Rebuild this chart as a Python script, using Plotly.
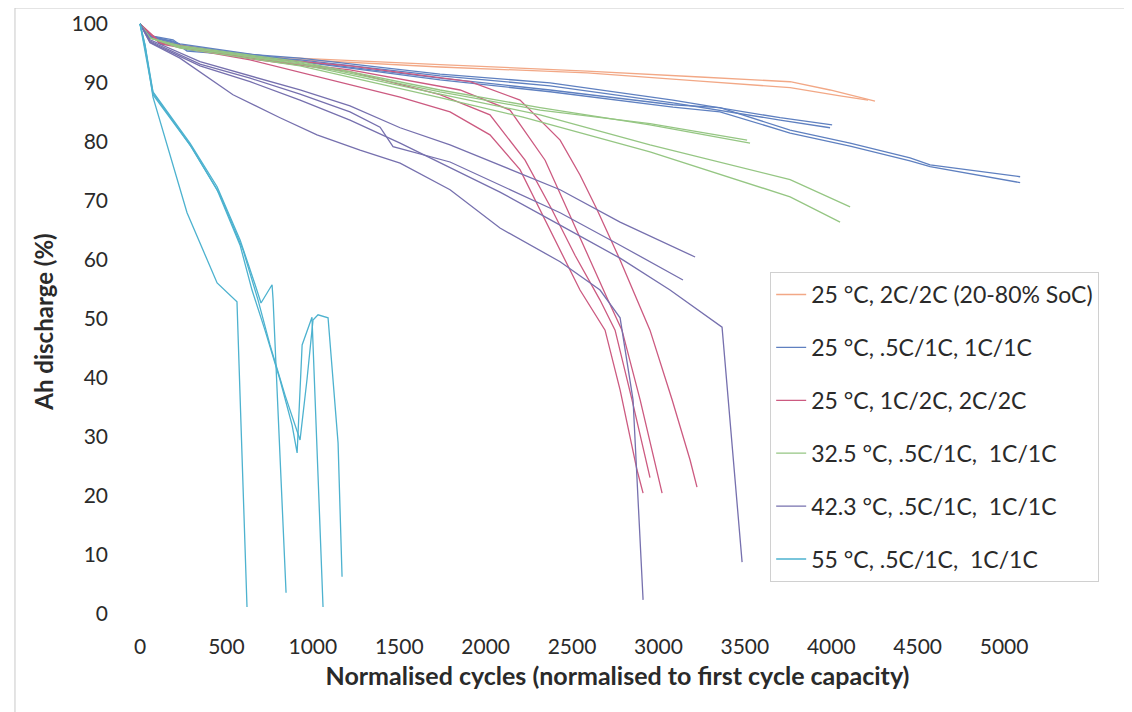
import plotly.graph_objects as go

# ---------------- data ----------------
series_names = [
    "25 °C, 2C/2C (20-80% SoC)",
    "25 °C, .5C/1C, 1C/1C",
    "25 °C, 1C/2C, 2C/2C",
    "32.5 °C, .5C/1C,  1C/1C",
    "42.3 °C, .5C/1C,  1C/1C",
    "55 °C, .5C/1C,  1C/1C",
]
series_colors = ["#F2A886", "#5F80C0", "#CC5A80", "#95C683", "#7670AE", "#4DB2CF"]

# 25 °C, 2C/2C (20-80% SoC)
orange_1_x = [0, 58, 231, 752, 1736, 2587, 3241, 3762, 3993, 4253]
orange_1_y = [100, 98.1, 96.4, 94.4, 93.1, 92.0, 91.0, 90.2, 88.8, 86.9]
orange_2_x = [0, 58, 231, 752, 1736, 2587, 3241, 3762, 4051, 4213]
orange_2_y = [100, 98.0, 96.3, 94.2, 92.7, 91.7, 90.3, 89.2, 87.8, 87.1]

# 25 °C, .5C/1C, 1C/1C
blue_1_x = [0, 58, 191, 272, 926, 1736, 2373, 3084, 3704, 4005]
blue_1_y = [100, 98.0, 97.3, 95.6, 94.2, 91.5, 90.0, 87.1, 84.1, 82.9]
blue_2_x = [0, 58, 191, 272, 926, 1736, 2373, 3084, 3704, 3993]
blue_2_y = [100, 97.8, 97.1, 95.4, 93.9, 91.2, 89.5, 86.6, 83.7, 82.4]
blue_3_x = [0, 58, 231, 926, 1736, 2373, 3084, 3356, 3762, 4109, 4456, 4572, 5093]
blue_3_y = [100, 98.0, 96.6, 93.7, 90.8, 88.8, 86.3, 85.8, 82.0, 79.8, 77.3, 76.1, 74.1]
blue_4_x = [0, 58, 231, 926, 1736, 2373, 3084, 3356, 3762, 4109, 4456, 4572, 5093]
blue_4_y = [100, 97.8, 96.4, 93.6, 90.5, 88.5, 85.9, 85.1, 81.5, 79.3, 76.8, 75.8, 73.1]

# 25 °C, 1C/2C, 2C/2C
pink_1_x = [0, 116, 637, 1042, 1505, 1794, 2025, 2199, 2315, 2431, 2546, 2691, 2778, 2876, 2911]
pink_1_y = [100, 96.6, 93.9, 91.0, 87.6, 85.1, 81.2, 75.3, 68.5, 61.7, 54.9, 48.1, 38.0, 24.4, 20.5]
pink_2_x = [0, 116, 637, 1215, 1852, 2141, 2344, 2471, 2604, 2708, 2789, 2894, 3021]
pink_2_y = [100, 96.8, 94.2, 92.2, 88.8, 85.4, 76.9, 68.5, 60.0, 53.2, 48.1, 36.3, 20.5]
pink_3_x = [0, 116, 637, 1215, 1910, 2199, 2431, 2546, 2645, 2778, 2951, 3079, 3183, 3223]
pink_3_y = [100, 96.9, 94.4, 92.9, 90.2, 87.1, 80.3, 74.4, 68.5, 60.0, 48.1, 36.3, 26.1, 21.5]
pink_4_x = [0, 116, 637, 1215, 1736, 2025, 2228, 2384, 2517, 2662, 2749, 2847, 2951]
pink_4_y = [100, 96.8, 94.1, 91.9, 88.0, 84.6, 76.9, 68.5, 60.8, 53.2, 48.1, 36.3, 23.1]

# 32.5 °C, .5C/1C, 1C/1C
green_1_x = [0, 58, 231, 926, 1736, 2315, 2951, 3530]
green_1_y = [100, 97.6, 96.3, 93.6, 88.8, 85.8, 82.9, 79.8]
green_2_x = [0, 58, 231, 926, 1736, 2315, 2951, 3513]
green_2_y = [100, 97.6, 96.1, 93.4, 88.5, 85.4, 83.1, 80.3]
green_3_x = [0, 58, 231, 926, 1736, 2315, 2951, 3762, 4109]
green_3_y = [100, 97.6, 96.1, 93.2, 88.1, 84.6, 79.5, 73.6, 69.0]
green_4_x = [0, 58, 231, 926, 1736, 2216, 2951, 3762, 4051]
green_4_y = [100, 97.6, 95.9, 92.9, 87.5, 84.2, 78.3, 70.7, 66.4]

# 42.3 °C, .5C/1C, 1C/1C
purple_1_x = [0, 58, 347, 637, 926, 1215, 1505, 1794, 2083, 2431, 2778, 3212]
purple_1_y = [100, 97.3, 93.6, 91.2, 88.8, 86.1, 82.4, 79.5, 76.1, 71.9, 66.4, 60.5]
purple_2_x = [0, 58, 347, 637, 926, 1215, 1389, 1464, 1794, 2083, 2431, 2778, 3142]
purple_2_y = [100, 97.1, 93.2, 90.8, 88.1, 85.1, 82.5, 79.2, 76.6, 72.7, 68.0, 62.5, 56.6]
purple_3_x = [0, 58, 347, 637, 926, 1215, 1505, 1794, 2083, 2431, 2778, 3067, 3368, 3484]
purple_3_y = [100, 96.9, 92.9, 90.2, 87.1, 83.7, 79.8, 75.6, 71.5, 65.9, 60.3, 54.9, 48.6, 8.8]
purple_4_x = [0, 58, 231, 538, 810, 1024, 1273, 1505, 1794, 2083, 2431, 2662, 2778, 2853, 2911]
purple_4_y = [100, 96.8, 94.2, 88.0, 84.1, 81.2, 78.6, 76.4, 71.9, 65.4, 59.7, 54.9, 50.2, 36.3, 2.4]

# 55 °C, .5C/1C, 1C/1C
cyan_1_x = [0, 29, 75, 272, 446, 561, 619]
cyan_1_y = [100, 96.4, 87.6, 68.0, 56.1, 52.9, 1.2]
cyan_2_x = [0, 29, 75, 289, 446, 579, 666, 700, 764, 770, 845]
cyan_2_y = [100, 96.4, 88.5, 79.8, 72.4, 63.4, 55.8, 52.7, 55.8, 53.2, 3.6]
cyan_3_x = [0, 29, 75, 289, 446, 579, 648, 723, 810, 880, 909, 938, 995, 1059]
cyan_3_y = [100, 95.9, 88.3, 79.5, 71.9, 62.5, 54.9, 48.1, 39.7, 32.0, 27.3, 45.6, 50.3, 1.2]
cyan_4_x = [0, 29, 75, 301, 463, 596, 683, 752, 839, 926, 966, 1001, 1030, 1088, 1146, 1169]
cyan_4_y = [100, 95.6, 88.0, 79.0, 71.0, 61.7, 53.2, 45.6, 37.1, 29.5, 39.7, 49.8, 50.7, 50.2, 29.0, 6.3]

x_ticks = [0, 500, 1000, 1500, 2000, 2500, 3000, 3500, 4000, 4500, 5000]
y_ticks = [0, 10, 20, 30, 40, 50, 60, 70, 80, 90, 100]

groups = [
    [(orange_1_x, orange_1_y), (orange_2_x, orange_2_y)],
    [(blue_1_x, blue_1_y), (blue_2_x, blue_2_y), (blue_3_x, blue_3_y), (blue_4_x, blue_4_y)],
    [(pink_1_x, pink_1_y), (pink_2_x, pink_2_y), (pink_3_x, pink_3_y), (pink_4_x, pink_4_y)],
    [(green_1_x, green_1_y), (green_2_x, green_2_y), (green_3_x, green_3_y), (green_4_x, green_4_y)],
    [(purple_1_x, purple_1_y), (purple_2_x, purple_2_y), (purple_3_x, purple_3_y), (purple_4_x, purple_4_y)],
    [(cyan_1_x, cyan_1_y), (cyan_2_x, cyan_2_y), (cyan_3_x, cyan_3_y), (cyan_4_x, cyan_4_y)],
]

FONT = "Lato, 'Open Sans', sans-serif"
TXT = "#2a2a2a"

fig = go.Figure()
for gi, (name, color, lines) in enumerate(zip(series_names, series_colors, groups)):
    for li, (xs, ys) in enumerate(lines):
        fig.add_trace(go.Scatter(
            x=xs, y=ys, mode="lines", name=name,
            line=dict(color=color, width=1.3),
            legendgroup=f"g{gi}", showlegend=(li == 0),
            legendrank=gi + 1,
        ))

fig.update_layout(
    width=1132, height=712,
    margin=dict(l=117, r=30, t=10, b=95, autoexpand=False),
    paper_bgcolor="white", plot_bgcolor="white",
    font=dict(family=FONT, size=21, color=TXT),
    legend=dict(
        x=0.655, y=0.5815, xanchor="left", yanchor="top",
        bordercolor="#d0d0d0", borderwidth=1, bgcolor="white",
        font=dict(family=FONT, size=23, color=TXT),
        tracegroupgap=20, itemwidth=30,
    ),
    xaxis=dict(
        range=[-87, 5613], tickvals=x_ticks, showgrid=False, zeroline=False,
        showline=False, ticklabelstandoff=7, automargin=False,
        tickfont=dict(size=21),
        title=dict(text="<b>Normalised cycles (normalised to first cycle capacity)</b>",
                   font=dict(size=25, family=FONT, color=TXT), standoff=10),
    ),
    yaxis=dict(
        range=[-1.86, 101.0], tickvals=y_ticks, showgrid=False, zeroline=False,
        showline=False, ticklabelstandoff=16, automargin=False,
        tickfont=dict(size=21),
        title=dict(text="<b>Ah discharge (%)</b>",
                   font=dict(size=24, family=FONT, color=TXT), standoff=11),
    ),
    shapes=[
        dict(type="line", xref="paper", yref="paper", x0=-0.1117, x1=1.05, y0=1.0165, y1=1.0165,
             line=dict(color="#c8c8c8", width=1)),
        dict(type="line", xref="paper", yref="paper", x0=-0.1117, x1=-0.1117, y0=1.0165, y1=-0.2,
             line=dict(color="#c8c8c8", width=1)),
    ],
    showlegend=True,
)

fig.write_html("out.html")
